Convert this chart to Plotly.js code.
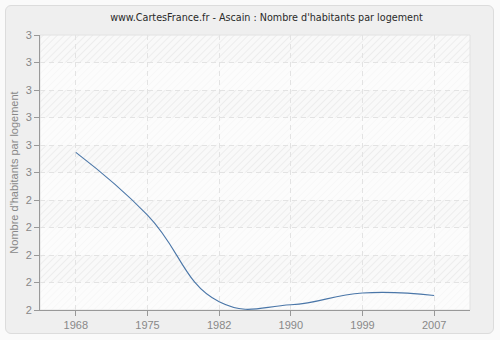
<!DOCTYPE html>
<html>
<head>
<meta charset="utf-8">
<script src="https://cdn.plot.ly/plotly-3.0.1.min.js"></script>
<style>
html,body{margin:0;padding:0;background:#fafafa;}
#wrap{position:relative;width:500px;height:340px;}
#card{position:absolute;left:5px;top:5px;width:487px;height:327px;background:#efefef;border:1px solid #dcdcdc;border-radius:6px;}
#chart{position:absolute;left:0;top:0;width:500px;height:340px;}
</style>
</head>
<body>
<div id="wrap"><div id="card"></div><div id="chart"></div></div>
<script>
var years = ['1968','1975','1982','1990','1999','2007'];
var values = [2.573, 2.345, 2.03, 2.019, 2.062, 2.053];
var yTickVals = [2.0,2.1,2.2,2.3,2.4,2.5,2.6,2.7,2.8,2.9,3.0];
var yTickText = ['2','2','2','2','2','3','3','3','3','3','3'];

var shapes = [];
for (var i = 0; i < yTickVals.length - 1; i++) {
  if (i % 2 === 0) {
    shapes.push({type:'rect', layer:'below', xref:'paper', yref:'y',
      x0:0, x1:1, y0:yTickVals[i], y1:yTickVals[i+1],
      fillcolor:'rgba(255,255,255,0.55)', line:{width:0}});
  }
}
shapes.push({type:'rect', layer:'below', xref:'paper', yref:'paper', x0:0, x1:1, y0:0, y1:1,
  fillcolor:'rgba(0,0,0,0)', line:{color:'#e2e2e2', width:1}});

var trace = {
  x: years, y: values, type:'scatter', mode:'lines',
  line:{shape:'spline', smoothing:1.3, color:'#4a76a8', width:1.1},
  hoverinfo:'skip'
};

var font = 'Liberation Sans, Arial, sans-serif';
var layout = {
  width:500, height:340,
  margin:{l:40, r:30, t:35, b:30},
  paper_bgcolor:'rgba(0,0,0,0)',
  plot_bgcolor:'#f7f7f7',
  showlegend:false,
  title:{text:"www.CartesFrance.fr - Ascain : Nombre d'habitants par logement",
    font:{family:'DejaVu Sans Condensed, Liberation Sans, sans-serif', size:10.7, color:'#2a2a2a'},
    x:0.533, xref:'container', xanchor:'center', y:0.95, yanchor:'middle', yref:'container'},
  xaxis:{type:'category', range:[-0.5,5.5], showgrid:true, gridcolor:'#e3e3e3', griddash:'5px,4px', gridwidth:1,
    showline:true, linecolor:'#999', linewidth:1, ticks:'outside', ticklen:5, tickcolor:'#999',
    tickfont:{family:font, size:11, color:'#888'}, zeroline:false, fixedrange:true},
  yaxis:{range:[2,3], tickmode:'array', tickvals:yTickVals, ticktext:yTickText,
    showgrid:true, gridcolor:'#e3e3e3', griddash:'5px,4px', gridwidth:1,
    showline:true, linecolor:'#999', linewidth:1, ticks:'outside', ticklen:5, tickcolor:'#999',
    tickfont:{family:font, size:11, color:'#888'}, zeroline:false, fixedrange:true,
    title:{text:"Nombre d'habitants par logement", font:{family:font, size:11, color:'#888'}, standoff:4}},
  shapes:shapes
};

Plotly.newPlot('chart', [trace], layout, {displayModeBar:false, staticPlot:true}).then(function(gd){
  var svg = gd.querySelector('svg.main-svg');
  var ns = 'http://www.w3.org/2000/svg';
  var defs = svg.querySelector('defs');
  if (!defs) { defs = document.createElementNS(ns,'defs'); svg.insertBefore(defs, svg.firstChild); }
  var pat = document.createElementNS(ns,'pattern');
  pat.setAttribute('id','hatch'); pat.setAttribute('patternUnits','userSpaceOnUse');
  pat.setAttribute('width','5'); pat.setAttribute('height','5');
  pat.setAttribute('patternTransform','rotate(45)');
  var r = document.createElementNS(ns,'rect');
  r.setAttribute('width','5'); r.setAttribute('height','5'); r.setAttribute('fill','#f9f9f9');
  var l = document.createElementNS(ns,'line');
  l.setAttribute('x1','0'); l.setAttribute('y1','0'); l.setAttribute('x2','0'); l.setAttribute('y2','5');
  l.setAttribute('stroke','#e9e9e9'); l.setAttribute('stroke-width','1.5');
  pat.appendChild(r); pat.appendChild(l); defs.appendChild(pat);
  var bg = gd.querySelector('rect.bg');
  if (bg) bg.style.fill = 'url(#hatch)';
});
</script>
</body>
</html>
